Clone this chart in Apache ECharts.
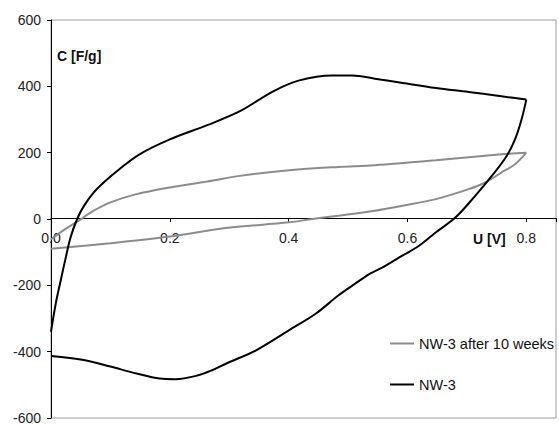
<!DOCTYPE html>
<html>
<head>
<meta charset="utf-8">
<script src="https://cdn.jsdelivr.net/npm/echarts@6/dist/echarts.min.js"></script>
<style>
html,body{margin:0;padding:0;background:#fff;}
#chart{width:559px;height:425px;}
</style>
</head>
<body>
<div id="chart"></div>
<script>
// ---- data ----
const yTicks = [-600, -400, -200, 0, 200, 400, 600];
const xTicks = [0.0, 0.2, 0.4, 0.6, 0.8];

// NW-3 (black) – forward sweep
const nw3FwdU = [0, 0.008, 0.017, 0.025, 0.033, 0.044, 0.055, 0.07, 0.09, 0.115, 0.149, 0.2, 0.263, 0.318, 0.374, 0.418, 0.473, 0.507, 0.545, 0.592, 0.648, 0.703, 0.758, 0.8];
const nw3FwdC = [-340, -255, -180, -115, -55, 0, 38, 76, 112, 150, 195, 240, 283, 325, 385, 418, 433, 433, 423, 410, 395, 383, 370, 360];
// NW-3 (black) – reverse sweep
const nw3RevU = [0.8, 0.792, 0.781, 0.767, 0.742, 0.714, 0.681, 0.648, 0.62, 0.592, 0.559, 0.537, 0.512, 0.484, 0.446, 0.401, 0.346, 0.296, 0.271, 0.244, 0.21, 0.183, 0.144, 0.1, 0.055, 0];
const nw3RevC = [360, 300, 240, 190, 130, 70, 5, -40, -80, -110, -145, -165, -195, -230, -285, -335, -395, -435, -456, -473, -483, -481, -466, -445, -425, -413];

// NW-3 after 10 weeks (grey) – forward sweep
const agedFwdU = [0, 0.02, 0.044, 0.072, 0.1, 0.144, 0.2, 0.263, 0.318, 0.401, 0.484, 0.545, 0.648, 0.758, 0.8];
const agedFwdC = [-62, -35, -8, 25, 50, 75, 95, 113, 130, 147, 157, 162, 177, 195, 200];
// NW-3 after 10 weeks (grey) – reverse sweep
const agedRevU = [0.8, 0.781, 0.758, 0.731, 0.703, 0.648, 0.592, 0.545, 0.484, 0.44, 0.401, 0.291, 0.2, 0.1, 0];
const agedRevC = [200, 165, 140, 110, 90, 60, 40, 25, 10, 0, -10, -28, -53, -73, -90];

const seriesNames = ['NW-3 after 10 weeks', 'NW-3'];
const yTitle = 'C [F/g]';
const xTitle = 'U [V]';

function pairs(u, c) { return u.map((v, i) => [v, c[i]]); }

const chart = echarts.init(document.getElementById('chart'), null, { renderer: 'svg' });
const font = 'Liberation Sans, Arial, sans-serif';
const grey = '#8c8c8c';

function lineSeries(name, u, c, color, z) {
  return {
    name: name, type: 'line', data: pairs(u, c), symbol: 'none', showSymbol: false, smooth: 0.35,
    lineStyle: { color: color, width: 2 }, itemStyle: { color: color }, z: z,
    animation: false
  };
}

chart.setOption({
  animation: false,
  backgroundColor: '#fff',
  grid: { left: 51, top: 20, bottom: 5, right: -5, show: true, borderColor: '#9a9a9a', borderWidth: 1, containLabel: false },
  xAxis: {
    type: 'value', min: 0, max: 0.85, interval: 0.2,
    position: 'bottom', offset: -200,
    axisLine: { onZero: false, lineStyle: { color: '#000', width: 1 } },
    axisTick: { show: true, length: 4, lineStyle: { color: '#000' } },
    axisLabel: {
      margin: 13, fontSize: 14, fontFamily: font, color: '#222',
      formatter: function (v) {
        const hit = xTicks.find(t => Math.abs(t - v) < 1e-6);
        return hit === undefined ? '' : hit.toFixed(1);
      }
    },
    splitLine: { show: false }
  },
  yAxis: {
    type: 'value', min: yTicks[0], max: yTicks[yTicks.length - 1], interval: 200,
    axisLine: { onZero: false, lineStyle: { color: '#000', width: 1 } },
    axisTick: { show: true, length: 4, lineStyle: { color: '#000' } },
    axisLabel: { margin: 10, fontSize: 14, fontFamily: font, color: '#222' },
    splitLine: { show: false }
  },
  legend: {
    orient: 'vertical', left: 385, top: 331,
    itemWidth: 24, itemHeight: 2, itemGap: 26,
    data: [
      { name: seriesNames[0], icon: 'rect', itemStyle: { color: grey } },
      { name: seriesNames[1], icon: 'rect', itemStyle: { color: '#000' } }
    ],
    textStyle: { fontSize: 14.5, fontFamily: font, color: '#111' }
  },
  graphic: [
    { type: 'text', left: 57, top: 49, style: { text: yTitle, font: 'bold 14px ' + font, fill: '#111' } },
    { type: 'text', left: 473, top: 232, style: { text: xTitle, font: 'bold 14px ' + font, fill: '#111' } }
  ],
  series: [
    lineSeries(seriesNames[0], agedFwdU, agedFwdC, grey, 2),
    lineSeries(seriesNames[0], agedRevU, agedRevC, grey, 2),
    lineSeries(seriesNames[1], nw3FwdU, nw3FwdC, '#000', 3),
    lineSeries(seriesNames[1], nw3RevU, nw3RevC, '#000', 3)
  ]
});
</script>
</body>
</html>
